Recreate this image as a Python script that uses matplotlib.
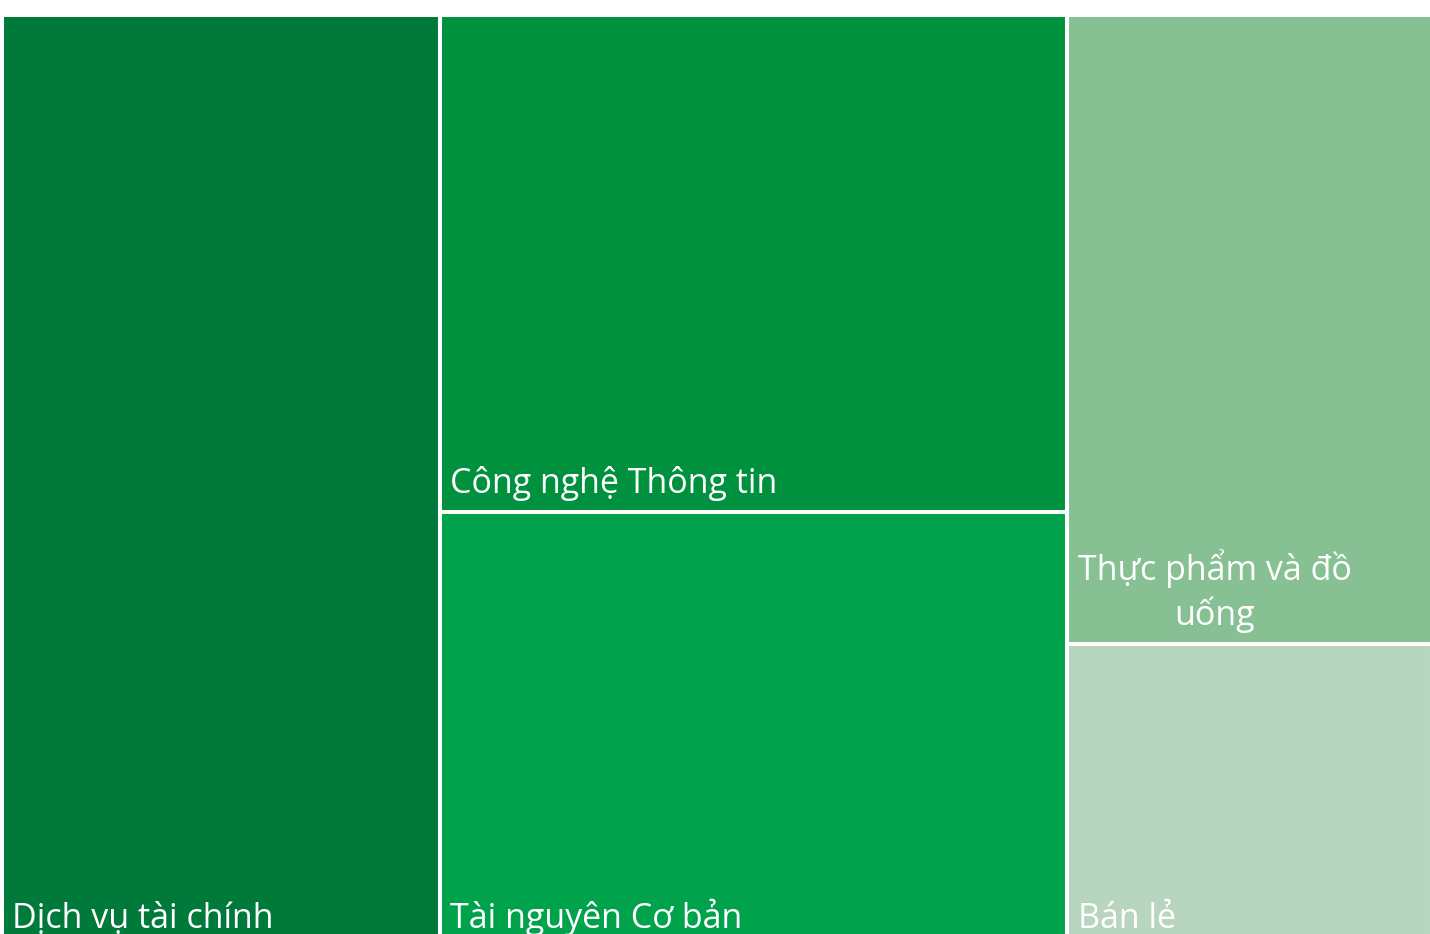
import matplotlib.pyplot as plt
from matplotlib.patches import Rectangle

# du lieu (ty trong %, uoc luong tu hinh)
labels = ["Dịch vụ tài chính", "Công nghệ Thông tin", "Tài nguyên Cơ bản",
          "Thực phẩm và đồ\nuống", "Bán lẻ"]
values = [30.6, 23.4, 20.5, 17.2, 8.3]
colors = ["#007A3B", "#00913F", "#00A34C", "#86C093", "#B8D6BF"]
# cot cua treemap (chi so trong values)
columns = [[0], [1, 2], [3, 4]]

plt.rcParams["font.family"] = ["Open Sans", "DejaVu Sans"]

W, H = 1430, 934
fig = plt.figure(figsize=(W / 100, H / 100), dpi=100)
# vung treemap: x 2..1432 px, y 15..947 px (tu tren xuong), phan duoi bi cat
ax = fig.add_axes([2 / W, (H - 947) / H, 1430 / W, 932 / H])
ax.set_xlim(0, 1)
ax.set_ylim(0, 1)
ax.axis("off")

total = sum(values)
x0 = 0.0
for col in columns:
    col_sum = sum(values[i] for i in col)
    w = col_sum / total
    y_top = 1.0
    for i in col:
        h = values[i] / col_sum
        y0 = y_top - h
        ax.add_patch(Rectangle((x0, y0), w, h, facecolor=colors[i],
                               edgecolor="white", linewidth=2.9))
        ax.annotate(labels[i], xy=(x0, y0), xytext=(7.5, 13.5),
                    textcoords="offset points", ha="left", va="baseline",
                    multialignment="center", color="white", fontsize=24.5,
                    linespacing=1.3)
        y_top = y0
    x0 += w

fig.savefig("out.png", dpi=100)
